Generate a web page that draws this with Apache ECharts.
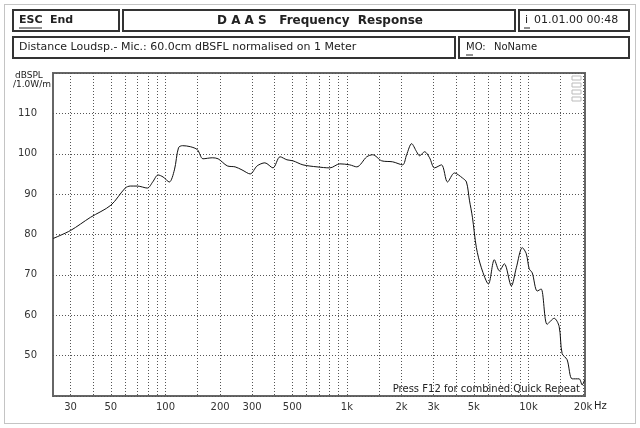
<!DOCTYPE html>
<html>
<head>
<meta charset="utf-8">
<script src="https://cdn.jsdelivr.net/npm/echarts@6/dist/echarts.min.js"></script>
<style>
html, body { margin: 0; padding: 0; background: #fff; }
#chart { width: 640px; height: 428px; }
</style>
</head>
<body>
<div id="chart"></div>
<script>
var freqHz = [24, 30, 38.6, 50, 60, 64, 70, 79.5, 85, 91, 97, 105, 112, 118, 124, 137, 150, 161, 181, 195,
  219, 242, 264, 293, 320, 353, 391, 428, 467, 504, 572, 684, 805, 914, 1036, 1133, 1286, 1387, 1554, 1786,
  2027, 2132, 2272, 2420, 2513, 2678, 2853, 3036, 3319, 3582, 3913, 4330, 4555, 4731, 4915, 5166, 5505, 6018,
  6489, 6921, 7368, 8052, 8574, 9249, 9729, 10101, 10497, 11178, 11751, 12681, 13863, 14760, 15336, 16335,
  17412, 19029, 19776, 20400];
var splDb = [79, 81, 84.25, 87.25, 91.5, 92, 92, 91.5, 93, 94.75, 94.25, 93, 96, 101.5, 102, 101.75, 101, 98.75, 99, 98.75,
  97, 96.75, 96, 95, 97, 97.75, 96.5, 99.25, 98.5, 98.25, 97.25, 96.75, 96.5, 97.5, 97.25, 96.75, 99.25, 99.75, 98.25, 98,
  97.25, 99.75, 102.5, 100.5, 99.5, 100.5, 99, 96.5, 97.25, 93, 95.25, 94, 93, 88.5, 84.25, 76.75, 71.75, 67.75,
  73.75, 71, 72.75, 67.25, 71.75, 76.75, 75.25, 71.5, 70.5, 66, 66.5, 57.75, 59.25, 57.25, 50.5, 49,
  44.25, 44.25, 42.75, 44];

// grid lines and labelled ticks of the frequency axis
var gridFreqs = [30, 40, 50, 60, 70, 80, 90, 100, 150, 200, 300, 400, 500, 600, 700, 800, 900,
  1000, 1500, 2000, 3000, 4000, 5000, 6000, 7000, 8000, 9000, 10000, 15000, 20000];
var labelFreqs = [30, 50, 100, 200, 300, 500, 1000, 2000, 3000, 5000, 10000, 20000];
var dbTicks = [50, 60, 70, 80, 90, 100, 110];

var chart = echarts.init(document.getElementById('chart'));
var font = 'DejaVu Sans';
var txt = '#222';

var points = [];
for (var i = 0; i < freqHz.length; i++) {
  points.push([freqHz[i], splDb[i]]);
}

function box(x, y, w, h, lw) {
  return {
    type: 'rect', silent: true,
    shape: { x: x, y: y, width: w, height: h },
    style: { fill: 'none', stroke: '#333', lineWidth: lw }
  };
}
function label(x, y, s, opt) {
  var st = { text: s, x: x, y: y, fill: txt, font: (opt && opt.font) || ('11px ' + font),
    textAlign: (opt && opt.align) || 'left', textVerticalAlign: 'middle' };
  return { type: 'text', silent: true, style: st };
}
function uline(x1, x2, y) {
  return { type: 'line', silent: true, shape: { x1: x1, y1: y, x2: x2, y2: y }, style: { stroke: '#222', lineWidth: 1 } };
}

var option = {
  animation: false,
  backgroundColor: '#fff',
  grid: {
    left: 53, top: 73, right: 55, bottom: 32,
    show: true, borderColor: '#666', borderWidth: 2, backgroundColor: 'transparent'
  },
  xAxis: {
    type: 'log',
    min: 24, max: 20500,
    axisLine: { show: false },
    axisTick: { show: false, customValues: gridFreqs },
    splitLine: { show: true, lineStyle: { color: '#555', type: [1, 2], width: 1 } },
    minorSplitLine: { show: false },
    axisLabel: {
      customValues: labelFreqs,
      margin: 6, fontSize: 10, color: '#333', fontFamily: font,
      formatter: function (v) {
        return v >= 1000 ? (v / 1000) + 'k' : String(v);
      }
    }
  },
  yAxis: {
    type: 'value',
    min: 40, max: 120, interval: 10,
    axisLine: { show: false },
    axisTick: { show: false },
    splitLine: { show: true, lineStyle: { color: '#555', type: [1, 2], width: 1 } },
    axisLabel: {
      margin: 16, fontSize: 10, color: '#333', fontFamily: font,
      formatter: function (v) {
        return dbTicks.indexOf(v) >= 0 ? String(v) : '';
      }
    }
  },
  series: [{
    type: 'line',
    data: points,
    showSymbol: false,
    smooth: 0.3,
    lineStyle: { color: '#111', width: 1 },
    z: 5
  }],
  graphic: [
    // outer frame
    { type: 'rect', silent: true, shape: { x: 4.5, y: 4.5, width: 631, height: 419 },
      style: { fill: 'none', stroke: '#888', lineWidth: 1, lineDash: [1, 1] } },
    // header boxes
    box(13, 10, 106, 21, 2),
    box(123, 10, 392, 21, 2),
    box(519, 10, 110, 21, 2),
    box(13, 37, 442, 21, 2),
    box(459, 37, 170, 21, 2),
    label(19, 20.5, 'ESC', { font: 'bold 11px ' + font }),
    uline(19, 42, 28),
    label(50, 20.5, 'End', { font: 'bold 11px ' + font }),
    label(320, 21, 'D A A S   Frequency  Response', { font: 'bold 12px ' + font, align: 'center' }),
    label(525, 20.5, 'i', { font: '11px ' + font }),
    uline(524, 530, 28),
    label(534, 20.5, '01.01.00 00:48', { font: '11px ' + font }),
    label(19, 47.5, 'Distance Loudsp.- Mic.: 60.0cm dBSFL normalised on 1 Meter', { font: '11px ' + font }),
    label(466, 47.5, 'MO:', { font: '10px ' + font }),
    uline(466, 473, 55),
    label(494, 47.5, 'NoName', { font: '10px ' + font }),
    // axis units
    label(15, 76, 'dBSPL', { font: '9px ' + font }),
    label(13, 85, '/1.0W/m', { font: '9px ' + font }),
    label(594, 406, 'Hz', { font: '10px ' + font }),
    // footer note inside plot
    label(580, 389, 'Press F12 for combined Quick Repeat', { font: '10px ' + font, align: 'right' }),
    // tiny legend boxes in the top right corner
    { type: 'rect', silent: true, shape: { x: 572, y: 76, width: 9, height: 4 }, style: { fill: 'none', stroke: '#bbb', lineWidth: 1 } },
    { type: 'rect', silent: true, shape: { x: 572, y: 83, width: 9, height: 4 }, style: { fill: 'none', stroke: '#bbb', lineWidth: 1 } },
    { type: 'rect', silent: true, shape: { x: 572, y: 90, width: 9, height: 4 }, style: { fill: 'none', stroke: '#bbb', lineWidth: 1 } },
    { type: 'rect', silent: true, shape: { x: 572, y: 97, width: 9, height: 4 }, style: { fill: 'none', stroke: '#bbb', lineWidth: 1 } }
  ]
};

chart.setOption(option);
</script>
</body>
</html>
